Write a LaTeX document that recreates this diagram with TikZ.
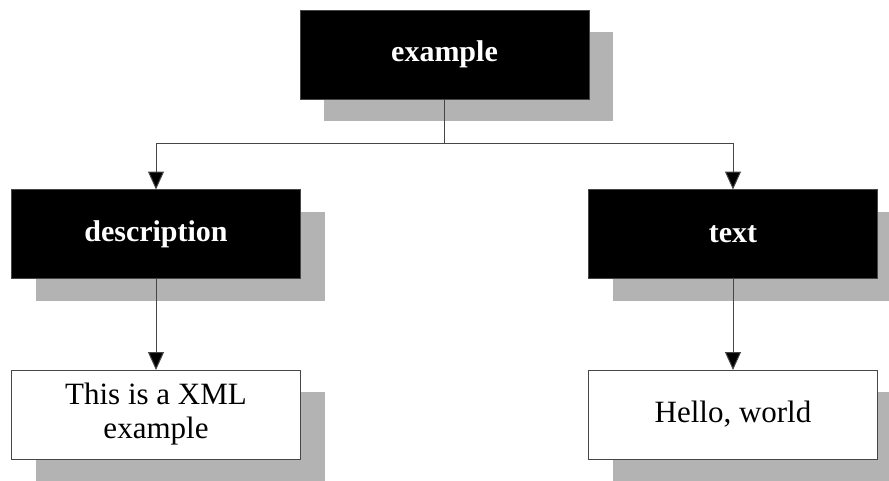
\documentclass[tikz,border=0pt]{standalone}
\usepackage{fontspec}
\setmainfont{Liberation Serif}
\usetikzlibrary{arrows.meta,positioning,shadows,calc}
\definecolor{xmlShade}{RGB}{179,179,179}
\definecolor{xmlEdge}{RGB}{70,70,70}

\begin{document}
\begin{tikzpicture}[x=1pt,y=-1pt,
      el/.style={draw=xmlEdge,line width=1pt,minimum width=289pt,minimum height=89pt,inner sep=0pt,outer sep=0pt,align=center,
        drop shadow={shadow xshift=24pt,shadow yshift=-22pt,fill=xmlShade,opacity=1}},
      tag/.style={fill=black,text=white,font=\fontsize{30}{34}\selectfont\bfseries},
      val/.style={fill=white,text=black,font=\fontsize{31}{34}\selectfont},
      arr/.style={-{Triangle[length=18pt,width=16pt,fill=black]},line width=1pt,draw=xmlEdge}
    ]
    \useasboundingbox (0,0) rectangle (889,480);
    \node[el,tag] (ex)   at (444.5,54.5)  {example};
    \node[el,tag] (desc) at (156,234)     {description};
    \node[el,tag] (txt)  at (733,234)     {text};
    \node[el,val] (dval) at (156,414.5)   {This is a XML\\example};
    \node[el,val] (tval) at (733,414.5)   {Hello, world};
    \coordinate (split) at (444.5,143);
    \draw[line width=1pt,draw=xmlEdge] (ex) -- (split);
    \draw[arr] (split) -| (desc);
    \draw[arr] (split) -| (txt);
    \draw[arr] (desc) -- (dval);
    \draw[arr] (txt) -- (tval);
  \end{tikzpicture}
\end{document}
